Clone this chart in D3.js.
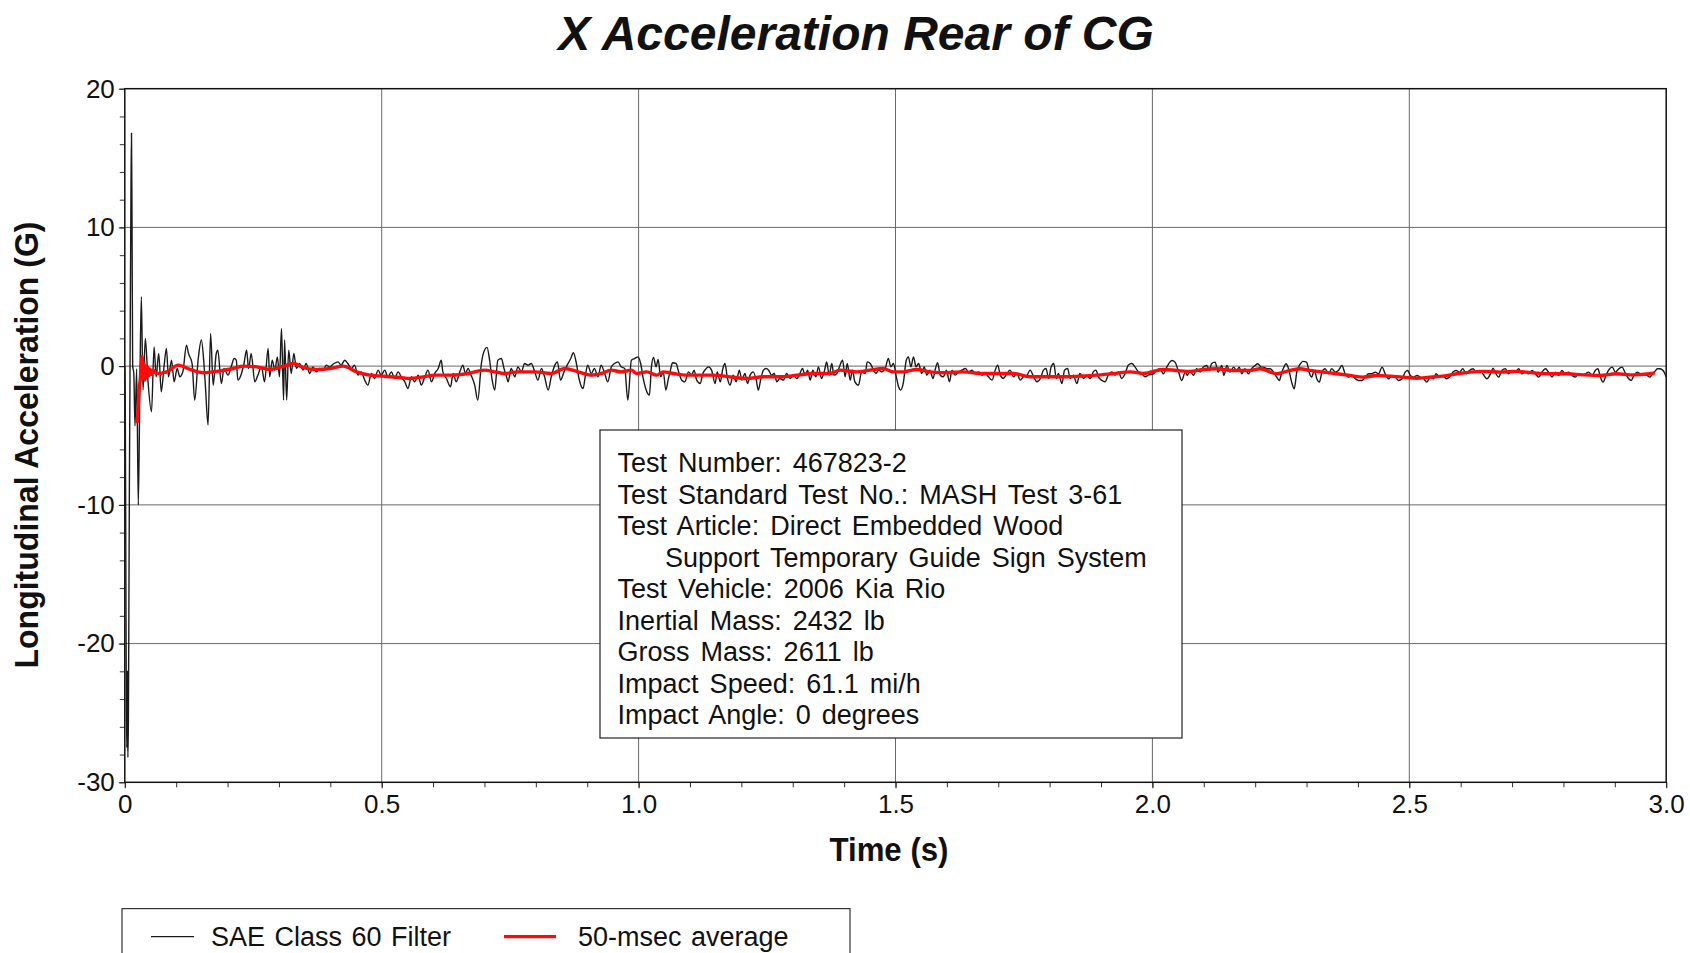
<!DOCTYPE html>
<html>
<head>
<meta charset="utf-8">
<script src="https://cdn.jsdelivr.net/npm/d3@7"></script>
<style>
  html, body { margin: 0; padding: 0; background: #fff; }
  svg { display: block; font-family: "Liberation Sans", Arial, Helvetica, sans-serif; }
</style>
</head>
<body>
<svg id="chart" width="1690" height="953"></svg>
<script>
// ---- Chart text ----
const chartTitle = "X Acceleration Rear of CG";
const xAxisTitle = "Time (s)";
const yAxisTitle = "Longitudinal Acceleration (G)";

// ---- Axis ticks ----
const xTickValues = [0, 0.5, 1.0, 1.5, 2.0, 2.5, 3.0];
const xTickLabels = ["0", "0.5", "1.0", "1.5", "2.0", "2.5", "3.0"];
const yTickValues = [20, 10, 0, -10, -20, -30];

// ---- Test information (continuation lines are indented) ----
const infoLines = [
  ["Test Number: 467823-2"],
  ["Test Standard Test No.: MASH Test 3-61"],
  ["Test Article: Direct Embedded Wood", "Support Temporary Guide Sign System"],
  ["Test Vehicle: 2006 Kia Rio"],
  ["Inertial Mass: 2432 lb"],
  ["Gross Mass: 2611 lb"],
  ["Impact Speed: 61.1 mi/h"],
  ["Impact Angle: 0 degrees"]
];

const legendLabels = ["SAE Class 60 Filter", "50-msec average"];

// ---- SAE Class 60 filtered acceleration: [time s, accel G] ----
const sae60Trace = [
  [0.000, 0.0], [0.001, -3.0], [0.002, -14.0], [0.003, -24.5], [0.004, -27.5], [0.005, -22.0],
  [0.0055, -26.0], [0.006, -28.2], [0.007, -25.5], [0.008, -17.0], [0.009, -8.0], [0.010, -1.5],
  [0.011, 6.0], [0.012, 12.5], [0.013, 16.8], [0.014, 11.0], [0.0153, 0.0], [0.0175, -0.5],
  [0.0198, -4.3], [0.0231, -0.2], [0.0263, -10.0], [0.0296, -0.5], [0.0322, 5.0], [0.0354, -1.73],
  [0.040, 2.0], [0.045, -1.01], [0.052, -3.29], [0.057, 1.39], [0.061, -0.77], [0.066, 0.91],
  [0.071, -1.85], [0.076, -0.17], [0.081, 1.27], [0.085, -0.77], [0.091, 0.43], [0.096, -1.13],
  [0.102, -0.17], [0.107, -0.77], [0.113, -0.41], [0.120, 1.51], [0.124, 0.91], [0.131, 0.19],
  [0.136, -2.45], [0.143, 0.55], [0.149, 1.88], [0.154, 0.19], [0.157, -1.49], [0.162, -4.25],
  [0.167, 2.36], [0.172, -1.37], [0.178, 0.91], [0.181, 1.15], [0.188, -1.25], [0.193, -0.17],
  [0.201, -0.65], [0.207, -0.05], [0.213, 0.55], [0.217, 0.43], [0.220, -1.01], [0.226, -0.65],
  [0.232, 0.19], [0.237, 1.15], [0.241, -0.17], [0.246, 0.91], [0.253, -1.13], [0.259, -0.65],
  [0.266, -0.05], [0.272, -1.13], [0.279, 1.27], [0.282, -0.77], [0.287, 0.43], [0.292, -0.29],
  [0.297, 0.67], [0.301, -0.77], [0.305, 2.72], [0.309, -2.45], [0.311, 1.88], [0.315, -2.45],
  [0.319, 1.15], [0.324, -0.53], [0.329, 0.91], [0.334, -0.17], [0.340, 0.19], [0.347, -0.29],
  [0.353, 0.19], [0.360, -0.53], [0.366, -0.05], [0.373, -0.41], [0.379, -0.17], [0.386, -0.29],
  [0.392, 0.07], [0.399, -0.05], [0.407, 0.19], [0.415, 0.31], [0.421, 0.07], [0.428, 0.43],
  [0.434, 0.19], [0.441, -0.17], [0.447, 0.07], [0.454, -0.65], [0.460, -0.41], [0.467, -1.01],
  [0.473, -1.37], [0.480, -0.53], [0.486, -0.89], [0.493, -0.29], [0.499, -0.65], [0.506, -0.29],
  [0.512, -0.77], [0.519, -0.41], [0.525, -0.89], [0.532, -0.41], [0.538, -0.77], [0.545, -1.13],
  [0.551, -1.61], [0.558, -0.77], [0.564, -1.13], [0.571, -0.65], [0.577, -1.37], [0.584, -0.77],
  [0.590, -0.29], [0.597, -1.13], [0.603, -0.53], [0.610, -0.17], [0.616, 0.43], [0.619, -0.41],
  [0.626, -0.89], [0.634, -1.49], [0.639, -0.53], [0.645, -1.13], [0.652, -0.41], [0.658, 0.07],
  [0.663, -0.53], [0.668, -0.17], [0.674, -0.65], [0.681, -1.37], [0.687, -2.45], [0.694, 0.19],
  [0.700, 1.15], [0.705, 1.35], [0.710, 0.43], [0.715, -1.01], [0.720, -1.73], [0.726, 0.43],
  [0.733, 0.55], [0.738, -0.17], [0.743, -0.77], [0.746, -1.13], [0.752, -0.17], [0.759, -0.77],
  [0.765, -0.05], [0.772, -0.41], [0.778, 0.19], [0.785, 0.07], [0.791, 0.19], [0.798, -0.41],
  [0.804, -1.01], [0.811, -0.17], [0.817, -0.77], [0.824, -1.73], [0.830, -0.77], [0.837, 0.07],
  [0.842, 0.31], [0.848, -1.01], [0.855, -0.41], [0.861, 0.07], [0.868, 0.55], [0.873, 0.96],
  [0.879, 0.19], [0.884, -0.89], [0.892, -1.61], [0.897, -0.53], [0.901, 0.07], [0.908, -0.53],
  [0.914, -0.17], [0.921, -0.77], [0.927, 0.07], [0.934, -0.53], [0.940, -1.13], [0.947, -0.05],
  [0.953, 0.19], [0.960, 0.31], [0.966, -0.05], [0.973, -0.17], [0.979, -2.45], [0.986, 0.43],
  [0.992, 0.55], [0.999, 0.67], [1.004, 0.19], [1.009, -0.89], [1.016, -1.85], [1.021, -2.09],
  [1.025, -0.05], [1.029, 0.63], [1.034, -0.05], [1.038, 0.48], [1.043, -0.77], [1.048, -0.41],
  [1.053, -1.73], [1.058, -0.89], [1.062, -0.29], [1.066, 0.24], [1.073, 0.19], [1.077, -0.29],
  [1.084, -1.01], [1.090, -1.13], [1.097, -0.41], [1.103, -0.65], [1.108, -0.29], [1.113, -1.01],
  [1.120, -1.25], [1.125, -0.53], [1.129, -0.29], [1.136, -0.05], [1.142, -0.29], [1.149, -1.25],
  [1.153, -0.41], [1.159, -1.13], [1.164, -0.17], [1.168, 0.19], [1.173, -0.89], [1.178, -1.37],
  [1.184, -0.65], [1.190, -1.13], [1.196, -0.29], [1.201, -1.01], [1.207, -0.53], [1.212, -1.25],
  [1.217, -0.65], [1.223, -0.41], [1.229, -1.01], [1.233, -1.73], [1.238, -0.89], [1.243, -0.29],
  [1.248, -0.17], [1.253, -0.29], [1.259, -0.65], [1.264, -0.53], [1.269, -1.13], [1.275, -0.89],
  [1.282, -1.01], [1.288, -0.53], [1.295, -0.89], [1.301, -0.65], [1.308, -0.89], [1.314, -0.53],
  [1.319, -0.17], [1.324, -0.65], [1.329, -0.29], [1.334, -1.01], [1.339, -0.29], [1.345, -0.77],
  [1.350, -0.05], [1.356, -0.89], [1.362, -0.29], [1.366, 0.31], [1.371, -0.65], [1.376, 0.19],
  [1.380, -0.65], [1.386, -0.53], [1.392, 0.07], [1.397, 0.43], [1.402, -0.77], [1.406, 0.19],
  [1.412, -1.01], [1.416, -0.29], [1.421, -1.13], [1.428, -1.37], [1.434, -0.41], [1.441, -0.53],
  [1.445, 0.31], [1.451, 0.19], [1.457, -0.29], [1.462, -0.53], [1.467, -0.29], [1.473, -0.41],
  [1.480, -0.17], [1.486, 0.55], [1.491, -0.05], [1.496, 0.19], [1.501, -0.65], [1.506, -1.49],
  [1.510, -1.73], [1.515, -1.25], [1.521, 0.43], [1.525, 0.67], [1.530, -0.05], [1.535, 0.67],
  [1.540, -0.05], [1.545, 0.19], [1.551, -0.53], [1.556, -0.05], [1.561, -0.65], [1.567, -0.29],
  [1.573, -0.89], [1.577, -0.29], [1.582, 0.24], [1.587, -0.65], [1.593, -0.77], [1.599, -0.29],
  [1.605, -1.13], [1.610, -0.29], [1.616, -0.65], [1.623, -0.41], [1.629, -0.29], [1.636, -0.17],
  [1.642, -0.41], [1.649, -0.29], [1.655, -0.53], [1.662, -0.41], [1.668, -0.65], [1.675, -0.53],
  [1.681, -0.77], [1.688, -1.01], [1.694, -0.29], [1.699, 0.07], [1.704, -0.65], [1.710, -0.89],
  [1.717, -0.53], [1.723, -0.29], [1.730, -0.77], [1.736, -0.53], [1.743, -1.01], [1.749, -0.77],
  [1.756, -0.65], [1.762, -0.29], [1.769, -0.77], [1.775, -1.13], [1.782, -0.89], [1.788, -0.29],
  [1.793, -0.17], [1.798, -0.89], [1.803, -0.05], [1.808, 0.19], [1.813, -0.89], [1.817, -0.53],
  [1.824, -1.25], [1.829, -0.29], [1.835, -0.17], [1.840, -0.89], [1.846, -0.65], [1.853, -1.25],
  [1.859, -0.53], [1.866, -0.89], [1.872, -0.65], [1.879, -0.89], [1.885, -0.41], [1.890, -0.29],
  [1.895, -0.77], [1.901, -1.01], [1.908, -1.13], [1.914, -0.65], [1.921, -0.41], [1.927, -0.65],
  [1.934, -0.41], [1.940, -0.89], [1.947, -0.53], [1.953, 0.07], [1.960, 0.19], [1.966, -0.05],
  [1.973, -0.41], [1.979, -0.53], [1.986, -0.77], [1.992, -0.65], [2.002, -0.55], [2.008, -0.31],
  [2.015, -0.19], [2.021, -0.55], [2.028, -0.07], [2.034, 0.29], [2.038, 0.41], [2.044, 0.29],
  [2.051, -0.43], [2.057, -1.03], [2.064, -0.43], [2.068, -0.67], [2.073, -0.31], [2.080, -0.67],
  [2.086, -0.19], [2.093, -0.43], [2.099, -0.07], [2.106, 0.05], [2.111, -0.31], [2.115, 0.17],
  [2.122, 0.29], [2.128, -0.43], [2.135, 0.05], [2.139, -0.67], [2.145, 0.05], [2.151, -0.43],
  [2.158, -0.07], [2.164, -0.31], [2.169, -0.07], [2.174, -0.55], [2.180, -0.19], [2.187, -0.55],
  [2.193, -0.19], [2.200, 0.05], [2.205, 0.17], [2.212, -0.07], [2.216, -0.07], [2.223, -0.19],
  [2.229, -0.19], [2.236, -0.43], [2.242, -0.79], [2.247, -1.03], [2.252, -0.43], [2.256, -0.07],
  [2.260, 0.17], [2.265, -0.19], [2.271, -1.15], [2.276, -1.63], [2.281, -0.43], [2.288, 0.17],
  [2.293, 0.34], [2.300, 0.29], [2.306, -0.55], [2.310, -0.79], [2.315, -0.31], [2.320, -0.91],
  [2.325, -1.15], [2.330, -0.43], [2.336, -0.19], [2.343, -0.55], [2.349, -0.19], [2.356, -0.43],
  [2.362, -0.31], [2.369, 0.05], [2.375, -0.55], [2.382, -0.79], [2.388, -0.67], [2.395, -0.91],
  [2.401, -1.03], [2.408, -1.03], [2.414, -0.79], [2.421, -0.55], [2.427, -0.55], [2.434, -0.43],
  [2.440, -0.55], [2.447, -0.07], [2.453, -0.55], [2.460, -0.91], [2.466, -0.67], [2.473, -0.79],
  [2.479, -1.03], [2.486, -0.91], [2.492, -0.43], [2.497, -0.31], [2.502, -0.67], [2.508, -0.79],
  [2.515, -0.67], [2.521, -0.79], [2.528, -0.91], [2.534, -1.15], [2.541, -0.79], [2.547, -0.91],
  [2.552, -0.55], [2.559, -0.79], [2.565, -0.67], [2.572, -0.91], [2.578, -0.79], [2.585, -0.43],
  [2.591, -0.31], [2.598, -0.43], [2.604, -0.19], [2.611, -0.55], [2.617, -0.31], [2.624, -0.19],
  [2.630, -0.43], [2.637, -0.31], [2.643, -0.55], [2.651, -0.91], [2.658, -0.55], [2.663, -0.14],
  [2.667, -0.43], [2.674, -0.79], [2.680, -0.31], [2.687, -0.19], [2.693, -0.55], [2.700, -0.31],
  [2.706, -0.43], [2.713, -0.19], [2.719, -0.55], [2.726, -0.43], [2.732, -0.55], [2.739, -0.31],
  [2.745, -0.55], [2.752, -0.79], [2.758, -0.43], [2.765, -0.19], [2.771, -0.43], [2.778, -0.79],
  [2.784, -0.43], [2.791, -0.67], [2.797, -0.31], [2.804, -0.55], [2.810, -0.43], [2.817, -0.67],
  [2.823, -0.79], [2.830, -0.55], [2.836, -0.67], [2.843, -0.55], [2.849, -0.43], [2.856, -0.67],
  [2.862, -0.31], [2.867, -0.19], [2.872, -0.79], [2.877, -1.15], [2.884, -0.55], [2.890, -0.19],
  [2.895, -0.07], [2.901, -0.43], [2.908, -0.19], [2.914, -0.07], [2.921, -0.55], [2.927, -0.91],
  [2.932, -1.03], [2.937, -0.67], [2.944, -0.43], [2.950, -0.55], [2.957, -0.55], [2.963, -0.67],
  [2.968, -0.79], [2.973, -0.55], [2.977, -0.43], [2.983, -0.19], [2.988, -0.19], [2.996, -0.43],
  [3.000, -0.79]
];

// ---- 50-msec moving average: [time s, accel G] ----
const avg50Trace = [
  [0.020, -4.0], [0.0245, -4.0], [0.026, -3.0], [0.028, -1.6], [0.030, -1.0], [0.032, 0.0],
  [0.034, 0.7], [0.035, -0.9], [0.037, 0.2], [0.039, -1.0], [0.041, 0.0], [0.043, -0.8],
  [0.045, -0.1], [0.047, -0.7], [0.049, -0.2], [0.052, -0.6], [0.055, -0.3], [0.062, -0.53],
  [0.0815, -0.41], [0.104, 0.07], [0.127, -0.24], [0.153, -0.48], [0.185, -0.34], [0.211, -0.17],
  [0.231, 0.0], [0.257, -0.05], [0.283, -0.24], [0.309, 0.0], [0.328, 0.19], [0.348, -0.1],
  [0.373, -0.24], [0.400, -0.17], [0.425, 0.0], [0.451, -0.41], [0.477, -0.65], [0.503, -0.72],
  [0.536, -0.82], [0.555, -0.89], [0.581, -0.77], [0.603, -0.65], [0.636, -0.65], [0.668, -0.53],
  [0.700, -0.29], [0.720, -0.41], [0.739, -0.53], [0.765, -0.41], [0.798, -0.41], [0.830, -0.53],
  [0.856, -0.17], [0.882, -0.41], [0.908, -0.65], [0.927, -0.53], [0.947, -0.29], [0.966, -0.41],
  [0.986, -0.29], [0.996, -0.53], [1.016, -0.41], [1.035, -0.65], [1.048, -0.41], [1.068, -0.53],
  [1.094, -0.65], [1.145, -0.65], [1.178, -0.77], [1.210, -0.89], [1.243, -0.77], [1.275, -0.77],
  [1.308, -0.65], [1.340, -0.53], [1.373, -0.53], [1.392, -0.29], [1.424, -0.41], [1.450, -0.29],
  [1.476, -0.17], [1.496, -0.41], [1.515, -0.41], [1.541, -0.24], [1.567, -0.41], [1.600, -0.48],
  [1.632, -0.41], [1.665, -0.53], [1.697, -0.53], [1.729, -0.53], [1.762, -0.77], [1.794, -0.77],
  [1.827, -0.77], [1.859, -0.72], [1.891, -0.65], [1.924, -0.53], [1.957, -0.41], [1.983, -0.53],
  [2.021, -0.24], [2.047, -0.31], [2.073, -0.38], [2.099, -0.24], [2.125, -0.19], [2.157, -0.31],
  [2.190, -0.31], [2.209, -0.19], [2.242, -0.55], [2.261, -0.38], [2.287, -0.19], [2.307, -0.31],
  [2.333, -0.43], [2.359, -0.55], [2.384, -0.67], [2.410, -0.79], [2.437, -0.67], [2.462, -0.72],
  [2.489, -0.79], [2.514, -0.87], [2.540, -0.79], [2.566, -0.72], [2.592, -0.55], [2.618, -0.43],
  [2.644, -0.38], [2.677, -0.43], [2.709, -0.38], [2.741, -0.48], [2.774, -0.55], [2.806, -0.55],
  [2.839, -0.63], [2.871, -0.67], [2.903, -0.55], [2.936, -0.63], [2.968, -0.55], [2.978, -0.48]
];

// ---- Layout ----
const W = 1690, H = 953;
const plot = { left: 124.8, right: 1666.2, top: 88.7, bottom: 782.3 };
const FILTER_COLOR = "#1a1a1a";
const AVG_COLOR = "#ff0a0a";
const GRID_COLOR = "#6a6a6a";

const svg = d3.select("#chart");
svg.append("rect").attr("width", W).attr("height", H).attr("fill", "#fff");

const x = d3.scaleLinear().domain([0, 3]).range([plot.left, plot.right]);
const y = d3.scaleLinear().domain([-30, 20]).range([plot.bottom, plot.top]);

// Grid lines at the major ticks
const grid = svg.append("g").attr("stroke", GRID_COLOR).attr("stroke-width", 1);
grid.selectAll("line.gx").data(xTickValues.slice(1, -1)).join("line")
  .attr("x1", d => x(d)).attr("x2", d => x(d))
  .attr("y1", plot.top).attr("y2", plot.bottom);
grid.selectAll("line.gy").data(yTickValues.slice(1, -1)).join("line")
  .attr("x1", plot.left).attr("x2", plot.right)
  .attr("y1", d => y(d)).attr("y2", d => y(d));

// Minor ticks
const minorX = svg.append("g").attr("transform", `translate(0,${plot.bottom})`)
  .call(d3.axisBottom(x).tickValues(d3.range(0, 3.0001, 0.1)).tickSize(5).tickFormat(""));
const minorY = svg.append("g").attr("transform", `translate(${plot.left},0)`)
  .call(d3.axisLeft(y).tickValues(d3.range(-30, 20.001, 2)).tickSize(5).tickFormat(""));
[minorX, minorY].forEach(g => {
  g.select(".domain").remove();
  g.selectAll("line").attr("stroke", "#333");
});

// Major axes with labels
const xAxis = svg.append("g").attr("transform", `translate(0,${plot.bottom})`)
  .call(d3.axisBottom(x).tickValues(xTickValues).tickSize(6).tickPadding(6)
    .tickFormat((d, i) => xTickLabels[i]));
const yAxis = svg.append("g").attr("transform", `translate(${plot.left},0)`)
  .call(d3.axisLeft(y).tickValues(yTickValues).tickSize(6).tickPadding(4)
    .tickFormat(d => String(d)));
[xAxis, yAxis].forEach(g => {
  g.select(".domain").remove();
  g.selectAll("line").attr("stroke", "#222");
  g.selectAll("text").attr("font-size", 26).attr("fill", "#111")
    .attr("font-family", "'Liberation Sans', Arial, sans-serif");
});

// Plot frame
svg.append("rect")
  .attr("x", plot.left).attr("y", plot.top)
  .attr("width", plot.right - plot.left).attr("height", plot.bottom - plot.top)
  .attr("fill", "none").attr("stroke", "#111").attr("stroke-width", 1.5);

// Data traces
svg.append("clipPath").attr("id", "plotClip").append("rect")
  .attr("x", plot.left).attr("y", plot.top)
  .attr("width", plot.right - plot.left).attr("height", plot.bottom - plot.top);

const line = d3.line().x(d => x(d[0])).y(d => y(d[1])).curve(d3.curveMonotoneX);
const traces = svg.append("g").attr("clip-path", "url(#plotClip)");
traces.append("path").datum(sae60Trace)
  .attr("d", line).attr("fill", "none")
  .attr("stroke", FILTER_COLOR).attr("stroke-width", 1.4).attr("stroke-linejoin", "round");
traces.append("path").datum(avg50Trace)
  .attr("d", line).attr("fill", "none")
  .attr("stroke", AVG_COLOR).attr("stroke-width", 3.4).attr("stroke-linejoin", "round");

// Title and axis titles
svg.append("text").text(chartTitle)
  .attr("x", 856).attr("y", 50).attr("text-anchor", "middle")
  .attr("font-size", 48).attr("font-weight", "bold").attr("font-style", "italic").attr("fill", "#111");
svg.append("text").text(xAxisTitle)
  .attr("x", 889).attr("y", 861).attr("text-anchor", "middle")
  .attr("font-size", 34).attr("font-weight", "bold").attr("fill", "#111")
  .attr("textLength", 119).attr("lengthAdjust", "spacingAndGlyphs");
svg.append("text").text(yAxisTitle)
  .attr("transform", "translate(38,445) rotate(-90)").attr("text-anchor", "middle")
  .attr("font-size", 33).attr("font-weight", "bold").attr("fill", "#111")
  .attr("textLength", 447).attr("lengthAdjust", "spacingAndGlyphs");

// Test information box
const info = svg.append("g");
info.append("rect").attr("x", 600).attr("y", 430).attr("width", 582).attr("height", 308)
  .attr("fill", "#fff").attr("stroke", "#222").attr("stroke-width", 1.2);
let row = 0;
infoLines.forEach(group => {
  group.forEach((txt, j) => {
    info.append("text").text(txt)
      .attr("x", j === 0 ? 617.6 : 665).attr("y", 472 + row * 31.5)
      .attr("font-size", 27).attr("word-spacing", 3.5).attr("fill", "#111");
    row++;
  });
});

// Legend
const legend = svg.append("g");
legend.append("rect").attr("x", 122).attr("y", 908.6).attr("width", 728).attr("height", 80)
  .attr("fill", "#fff").attr("stroke", "#333").attr("stroke-width", 1.2);
const legendItems = [
  { label: legendLabels[0], color: FILTER_COLOR, width: 1.4, x1: 151, x2: 194, tx: 211 },
  { label: legendLabels[1], color: AVG_COLOR, width: 3.4, x1: 504, x2: 556, tx: 578 }
];
legendItems.forEach(it => {
  legend.append("line").attr("x1", it.x1).attr("x2", it.x2).attr("y1", 936.6).attr("y2", 936.6)
    .attr("stroke", it.color).attr("stroke-width", it.width);
  legend.append("text").text(it.label).attr("x", it.tx).attr("y", 946)
    .attr("font-size", 27).attr("word-spacing", 2).attr("fill", "#111");
});
</script>
</body>
</html>
